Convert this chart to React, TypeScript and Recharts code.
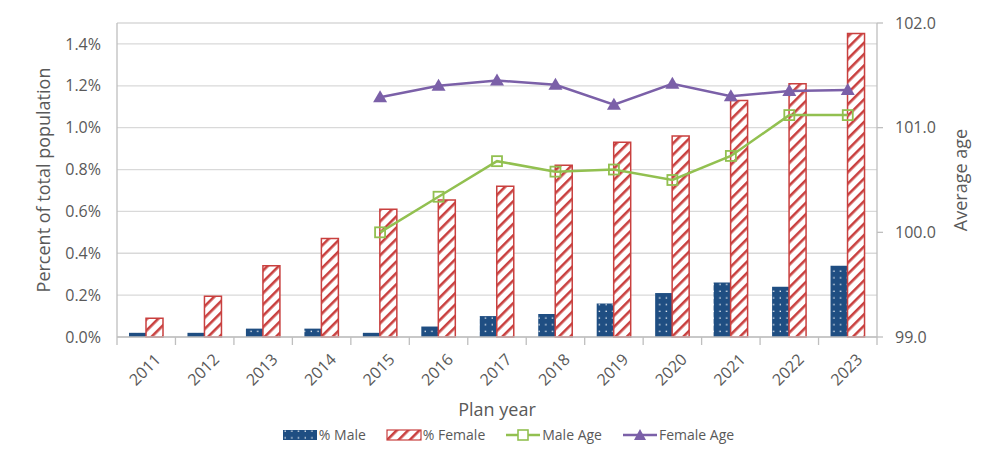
import * as React from "react";
import {
  Bar,
  CartesianGrid,
  ComposedChart,
  Legend,
  Line,
  XAxis,
  YAxis,
} from "recharts";

/* ── data ─────────────────────────────────────────────────────────────── */

const YEARS = ["2011", "2012", "2013", "2014", "2015", "2016", "2017", "2018", "2019", "2020", "2021", "2022", "2023"];
const MALE_PCT = [0.02, 0.02, 0.04, 0.04, 0.02, 0.05, 0.1, 0.11, 0.16, 0.21, 0.26, 0.24, 0.34];
const FEMALE_PCT = [0.09, 0.195, 0.34, 0.47, 0.61, 0.655, 0.72, 0.82, 0.93, 0.96, 1.13, 1.21, 1.45];
const MALE_AGE = [null, null, null, null, 100.0, 100.34, 100.68, 100.58, 100.6, 100.5, 100.73, 101.12, 101.12];
const FEMALE_AGE = [null, null, null, null, 101.29, 101.4, 101.45, 101.41, 101.22, 101.42, 101.3, 101.35, 101.36];

const PCT_TICKS = [0, 0.2, 0.4, 0.6, 0.8, 1.0, 1.2, 1.4];
const AGE_TICKS = [99, 100, 101, 102];

const rows = YEARS.map((year, i) => ({
  year,
  male: MALE_PCT[i],
  female: FEMALE_PCT[i],
  maleAge: MALE_AGE[i],
  femaleAge: FEMALE_AGE[i],
}));

/* ── style ────────────────────────────────────────────────────────────── */

const FONT = "'Open Sans', 'Segoe UI', sans-serif";
const TEXT = "#595959";
const AXIS = "#bfbfbf";
const GRID = "#d9d9d9";
const BLUE = "#1f4e82";
const RED = "#c9403f";
const GREEN = "#92c050";
const PURPLE = "#7b60a8";

function Patterns() {
  return (
    <defs>
      <pattern id="p-male" width="6.7" height="6.7" patternUnits="userSpaceOnUse">
        <rect width="6.7" height="6.7" fill={BLUE} />
        <rect x="2.5" y="2.5" width="1.3" height="1.3" fill="#ffffff" />
      </pattern>
      <pattern id="p-female" width="8" height="8" patternUnits="userSpaceOnUse" patternTransform="rotate(45)">
        <rect width="8" height="8" fill="#ffffff" />
        <rect x="0" y="0" width="2.6" height="8" fill={RED} />
      </pattern>
    </defs>
  );
}

// Year label plus the separator marks Excel draws between categories.
function YearTick(props: any) {
  const { x, y, payload, index, visibleTicksCount } = props;
  const half = payload && payload.offset ? payload.offset : 0;
  const axisY = y - 8;
  const ax = x + 6;
  const ay = y + 6;
  const isLast = index === (visibleTicksCount ?? YEARS.length) - 1;
  return (
    <g>
      <line x1={x - half} x2={x - half} y1={axisY} y2={axisY + 8} stroke={AXIS} strokeWidth={1.3} />
      {isLast && <line x1={x + half} x2={x + half} y1={axisY} y2={axisY + 8} stroke={AXIS} strokeWidth={1.3} />}
      <text
        x={ax}
        y={ay}
        transform={`rotate(-45, ${ax}, ${ay})`}
        textAnchor="end"
        dominantBaseline="hanging"
        fill={TEXT}
        fontSize={16}
        fontFamily={FONT}
      >
        {payload.value}
      </text>
    </g>
  );
}

function Square(props: any) {
  const { cx, cy } = props;
  if (cx == null || cy == null || props.value == null) return null;
  return <rect x={cx - 5} y={cy - 5} width={10} height={10} fill="none" stroke={GREEN} strokeWidth={1.8} />;
}

function Triangle(props: any) {
  const { cx, cy } = props;
  if (cx == null || cy == null || props.value == null) return null;
  return <path d={`M${cx},${cy - 7} L${cx + 7},${cy + 5} L${cx - 7},${cy + 5} Z`} fill={PURPLE} />;
}

function LegendContent() {
  const item = (icon: React.ReactNode, label: string) => (
    <span style={{ display: "inline-flex", alignItems: "center", marginRight: 20 }}>
      <svg width={36} height={14} style={{ marginRight: 1 }}>
        {icon}
      </svg>
      {label}
    </span>
  );
  return (
    <div
      style={{
        display: "flex",
        justifyContent: "center",
        fontFamily: FONT,
        fontSize: 14,
        color: TEXT,
        paddingLeft: 36,
      }}
    >
      {item(<rect x={1} y={2} width={34} height={10} fill="url(#p-male)" />, "% Male")}
      {item(<rect x={1} y={2} width={34} height={10} fill="url(#p-female)" stroke={RED} strokeWidth={1.2} />, "% Female")}
      {item(
        <g>
          <line x1={1} x2={35} y1={7} y2={7} stroke={GREEN} strokeWidth={2.5} />
          <rect x={13} y={2} width={10} height={10} fill="#fff" stroke={GREEN} strokeWidth={1.6} />
        </g>,
        "Male Age"
      )}
      {item(
        <g>
          <line x1={1} x2={35} y1={7} y2={7} stroke={PURPLE} strokeWidth={2.5} />
          <path d="M18,1 L24,12 L12,12 Z" fill={PURPLE} />
        </g>,
        "Female Age"
      )}
    </div>
  );
}

export default function App() {
  return (
    <div style={{ position: "absolute", left: 0, top: 0, width: 1000, height: 455, background: "#fff" }}>
      <ComposedChart
        width={1000}
        height={455}
        data={rows}
        margin={{ top: 23, right: 0, left: 0, bottom: 0 }}
        barGap={0}
        barCategoryGap={0}
      >
        <Patterns />
        <CartesianGrid yAxisId="left" xAxisId="cat" vertical={false} stroke={GRID} strokeWidth={1.3} />
        <XAxis
          xAxisId="cat"
          dataKey="year"
          tick={<YearTick />}
          tickLine={false}
          tickSize={8}
          tickMargin={0}
          axisLine={{ stroke: AXIS, strokeWidth: 1.3 }}
          interval={0}
          height={88}
          label={(p: any) => {
            const vb = p.viewBox;
            return (
              <text x={vb.x + vb.width / 2} y={vb.y + 79} textAnchor="middle" fill={TEXT} fontSize={18} fontFamily={FONT}>
                Plan year
              </text>
            );
          }}
        />
        <YAxis
          yAxisId="left"
          width={117}
          domain={[0, 1.5]}
          ticks={PCT_TICKS}
          tickFormatter={(v: number) => `${v.toFixed(1)}%`}
          tick={{ fill: TEXT, fontSize: 16, fontFamily: FONT }}
          tickLine={false}
          tickMargin={10}
          axisLine={{ stroke: AXIS, strokeWidth: 1.3 }}
          label={(p: any) => {
            const vb = p.viewBox;
            const cx = vb.x + 43;
            const cy = vb.y + vb.height / 2;
            return (
              <text x={cx} y={cy} transform={`rotate(-90, ${cx}, ${cy})`} textAnchor="middle" dominantBaseline="central" fill={TEXT} fontSize={18} fontFamily={FONT}>
                Percent of total population
              </text>
            );
          }}
        />
        <YAxis
          yAxisId="right"
          orientation="right"
          width={123}
          domain={[99, 102]}
          ticks={AGE_TICKS}
          tickFormatter={(v: number) => v.toFixed(1)}
          tick={{ fill: TEXT, fontSize: 16, fontFamily: FONT }}
          tickLine={{ stroke: AXIS, strokeWidth: 1.3 }}
          tickSize={6}
          tickMargin={12}
          axisLine={{ stroke: AXIS, strokeWidth: 1.3 }}
          label={(p: any) => {
            const vb = p.viewBox;
            const cx = vb.x + 83;
            const cy = vb.y + vb.height / 2;
            return (
              <text x={cx} y={cy} transform={`rotate(-90, ${cx}, ${cy})`} textAnchor="middle" dominantBaseline="central" fill={TEXT} fontSize={18} fontFamily={FONT}>
                Average age
              </text>
            );
          }}
        />
        <Legend verticalAlign="bottom" height={30} content={() => <LegendContent />} />
        <Bar xAxisId="cat" yAxisId="left" dataKey="male" name="% Male" barSize={17} fill="url(#p-male)" isAnimationActive={false} />
        <Bar
          xAxisId="cat"
          yAxisId="left"
          dataKey="female"
          name="% Female"
          barSize={17}
          fill="url(#p-female)"
          stroke={RED}
          strokeWidth={1.5}
          isAnimationActive={false}
        />
        <Line
          xAxisId="cat"
          yAxisId="right"
          dataKey="maleAge"
          name="Male Age"
          stroke={GREEN}
          strokeWidth={2.5}
          dot={<Square />}
          isAnimationActive={false}
        />
        <Line
          xAxisId="cat"
          yAxisId="right"
          dataKey="femaleAge"
          name="Female Age"
          stroke={PURPLE}
          strokeWidth={2.5}
          dot={<Triangle />}
          isAnimationActive={false}
        />
      </ComposedChart>
    </div>
  );
}
